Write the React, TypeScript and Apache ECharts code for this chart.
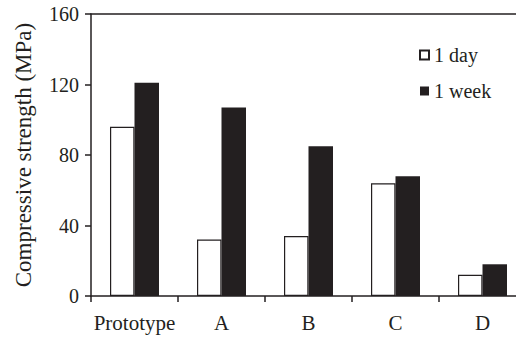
import React, { useEffect, useRef } from "react";
import * as echarts from "echarts";

const categories = ["Prototype", "A", "B", "C", "D"];
const oneDay = [96, 32, 34, 64, 12];
const oneWeek = [121, 107, 85, 68, 18];
const yTicks = { min: 0, max: 160, interval: 40 };

const INK = "#231f20";
const FONT = "Liberation Serif";

export default function App() {
  const ref = useRef<HTMLDivElement>(null);
  useEffect(() => {
    if (!ref.current) return;
    const chart = echarts.init(ref.current, null, { renderer: "svg" });
    chart.setOption({
      animation: false,
      backgroundColor: "#ffffff",
      textStyle: { fontFamily: FONT, color: INK },
      grid: {
        left: 91,
        top: 14,
        bottom: 43,
        right: -10,
        containLabel: false,
        outerBoundsMode: "none",
      },
      legend: {
        orient: "vertical",
        left: 414,
        top: 40,
        itemWidth: 9,
        itemHeight: 9,
        itemGap: 16,
        icon: "rect",
        textStyle: { fontFamily: FONT, fontSize: 20, color: INK },
        data: ["1 day", "1 week"],
      },
      xAxis: [
        {
          type: "category",
          data: categories,
          position: "bottom",
          axisLine: { show: true, lineStyle: { color: INK, width: 1.5 } },
          axisTick: { show: true, length: 6, lineStyle: { color: INK, width: 1.5 } },
          axisLabel: { fontFamily: FONT, fontSize: 21, color: INK, margin: 16, interval: 0 },
        },
        {
          type: "category",
          data: categories,
          position: "top",
          axisLine: { show: true, lineStyle: { color: INK, width: 1.5 } },
          axisTick: { show: false },
          axisLabel: { show: false },
        },
      ],
      yAxis: {
        type: "value",
        min: yTicks.min,
        max: yTicks.max,
        interval: yTicks.interval,
        name: "Compressive strength (MPa)",
        nameLocation: "middle",
        nameGap: 56,
        nameTextStyle: { fontFamily: FONT, fontSize: 23, color: INK },
        axisLine: { show: true, lineStyle: { color: INK, width: 1.5 } },
        axisTick: { show: true, length: 6, lineStyle: { color: INK, width: 1.5 } },
        axisLabel: { fontFamily: FONT, fontSize: 20, color: INK, margin: 12 },
        splitLine: { show: false },
      },
      series: [
        {
          name: "1 day",
          type: "bar",
          data: oneDay,
          barWidth: 24.5,
          barGap: "0%",
          itemStyle: { color: "#ffffff", borderColor: INK, borderWidth: 1.2 },
        },
        {
          name: "1 week",
          type: "bar",
          data: oneWeek,
          barWidth: 24.5,
          barGap: "0%",
          itemStyle: { color: INK },
        },
      ],
    });
    return () => chart.dispose();
  }, []);
  return (
    <div
      ref={ref}
      style={{ position: "absolute", left: 0, top: 0, width: 516, height: 339 }}
    />
  );
}
